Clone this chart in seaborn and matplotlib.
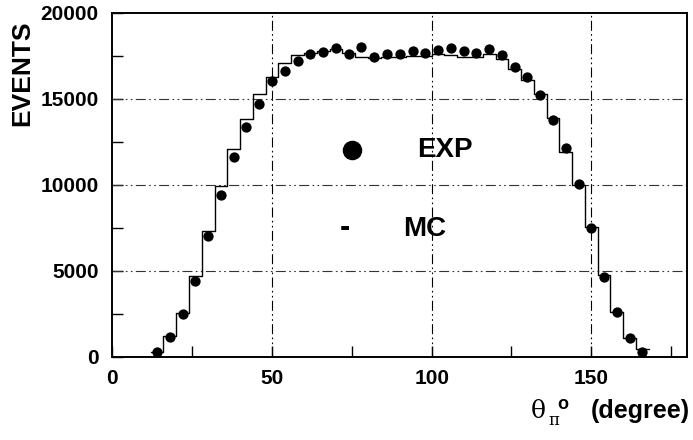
import numpy as np
import pandas as pd
import matplotlib
matplotlib.use("Agg")
import matplotlib.pyplot as plt
import seaborn as sns

# ---- data ----
theta_centers = [14, 18, 22, 26, 30, 34, 38, 42, 46, 50, 54, 58, 62, 66, 70, 74, 78,
                 82, 86, 90, 94, 98, 102, 106, 110, 114, 118, 122, 126, 130, 134,
                 138, 142, 146, 150, 154, 158, 162, 166]
exp_events = [300, 1160, 2480, 4420, 7040, 9420, 11630, 13350, 14700, 16030, 16630,
              17190, 17580, 17720, 17960, 17620, 18000, 17440, 17620, 17580, 17770,
              17670, 17830, 17960, 17770, 17670, 17870, 17540, 16850, 16270, 15200,
              13750, 12120, 10060, 7470, 4620, 2600, 1070, 290]
mc_events = [300, 1220, 2560, 4700, 7310, 9930, 12080, 13800, 15270, 16280, 17050,
             17560, 17670, 17790, 17870, 17670, 17400, 17380, 17440, 17440, 17480,
             17480, 17580, 17540, 17440, 17440, 17580, 17290, 16710, 16100, 15250,
             13860, 11880, 9970, 7560, 4750, 2610, 1100, 420]
bin_width = 4
x_ticks = [0, 50, 100, 150]
y_ticks = [0, 5000, 10000, 15000, 20000]

df = pd.DataFrame({"theta": theta_centers, "exp": exp_events, "mc": mc_events})
edges = [c - bin_width / 2 for c in theta_centers] + [theta_centers[-1] + bin_width / 2]

sns.set_theme(style="white")
plt.rcParams["font.family"] = ["Liberation Sans", "DejaVu Sans"]
plt.rcParams["text.color"] = "black"
plt.rcParams["xtick.color"] = "black"
plt.rcParams["ytick.color"] = "black"
plt.rcParams["axes.labelcolor"] = "black"

W, H = 693, 440
fig = plt.figure(figsize=(W / 100, H / 100), dpi=100)
x0, x1, ytop, ybot = 112.4, 687.1, 12.7, 356.7
ax = fig.add_axes([x0 / W, 1 - ybot / H, (x1 - x0) / W, (ybot - ytop) / H])

# MC histogram (step)
sns.histplot(data=df, x="theta", weights="mc", bins=edges, element="step", fill=False,
             color="black", linewidth=1.0, ax=ax)
# EXP points
sns.scatterplot(data=df, x="theta", y="exp", color="black", s=55, edgecolor="black",
                linewidth=0, ax=ax, zorder=3)

ax.set_xlim(0, 180)
ax.set_ylim(0, 20000)
ax.set_xticks(x_ticks)
ax.set_xticks([25, 75, 125, 175], minor=True)
ax.set_yticks(y_ticks)
ax.set_yticks([2500, 7500, 12500, 17500], minor=True)
ax.set_xticklabels([str(v) for v in x_ticks], fontsize=15, fontweight="bold", color="black")
ax.set_yticklabels([str(v) for v in y_ticks], fontsize=15, fontweight="bold", color="black")
ax.tick_params(which="both", direction="in", length=8, width=1, color="black",
               bottom=True, left=True, top=False, right=False)
ax.tick_params(axis="y", pad=10)
ax.tick_params(axis="x", pad=9)
ax.set_xlabel("")
ax.set_ylabel("")

gridstyle = (0, (9, 3, 1.5, 3, 1.5, 3))
for gx in [50, 100, 150]:
    ax.axvline(gx, color="black", linewidth=0.8, linestyle=gridstyle, zorder=1)
for gy in [5000, 10000, 15000]:
    ax.axhline(gy, color="#333333", linewidth=0.8, linestyle=gridstyle, zorder=1)

for sp in ax.spines.values():
    sp.set_visible(True)
    sp.set_color("black")
    sp.set_linewidth(1.4)

# in-plot legend
ax.scatter([75], [12000], s=170, color="black", zorder=4)
ax.text(95.3, 12000, "EXP", fontsize=20, fontweight="bold", ha="left", va="center",
        color="black")
ax.text(72.8, 7500, "-", fontsize=22, fontweight="bold", ha="center", va="center",
        color="black")
ax.text(91, 7400, "MC", fontsize=20, fontweight="bold", ha="left", va="center",
        color="black")

# axis labels
fig.text(22 / W, 1 - 73 / H, "EVENTS", rotation=90, ha="center", va="center",
         fontsize=19, fontweight="bold", color="black")
fig.text(531 / W, 1 - 411 / H, "θ", fontsize=18, family=["DejaVu Serif"],
         ha="left", va="center", color="black")
fig.text(548 / W, 1 - 420 / H, "π", fontsize=12, family=["DejaVu Serif"],
         ha="left", va="center", color="black")
fig.text(557 / W, 1 - 404 / H, "o", fontsize=13, fontweight="bold", ha="left",
         va="center", color="black")
fig.text(690 / W, 1 - 411 / H, "(degree)", fontsize=18, fontweight="bold",
         ha="right", va="center", color="black")

fig.savefig("out.png", dpi=100)
